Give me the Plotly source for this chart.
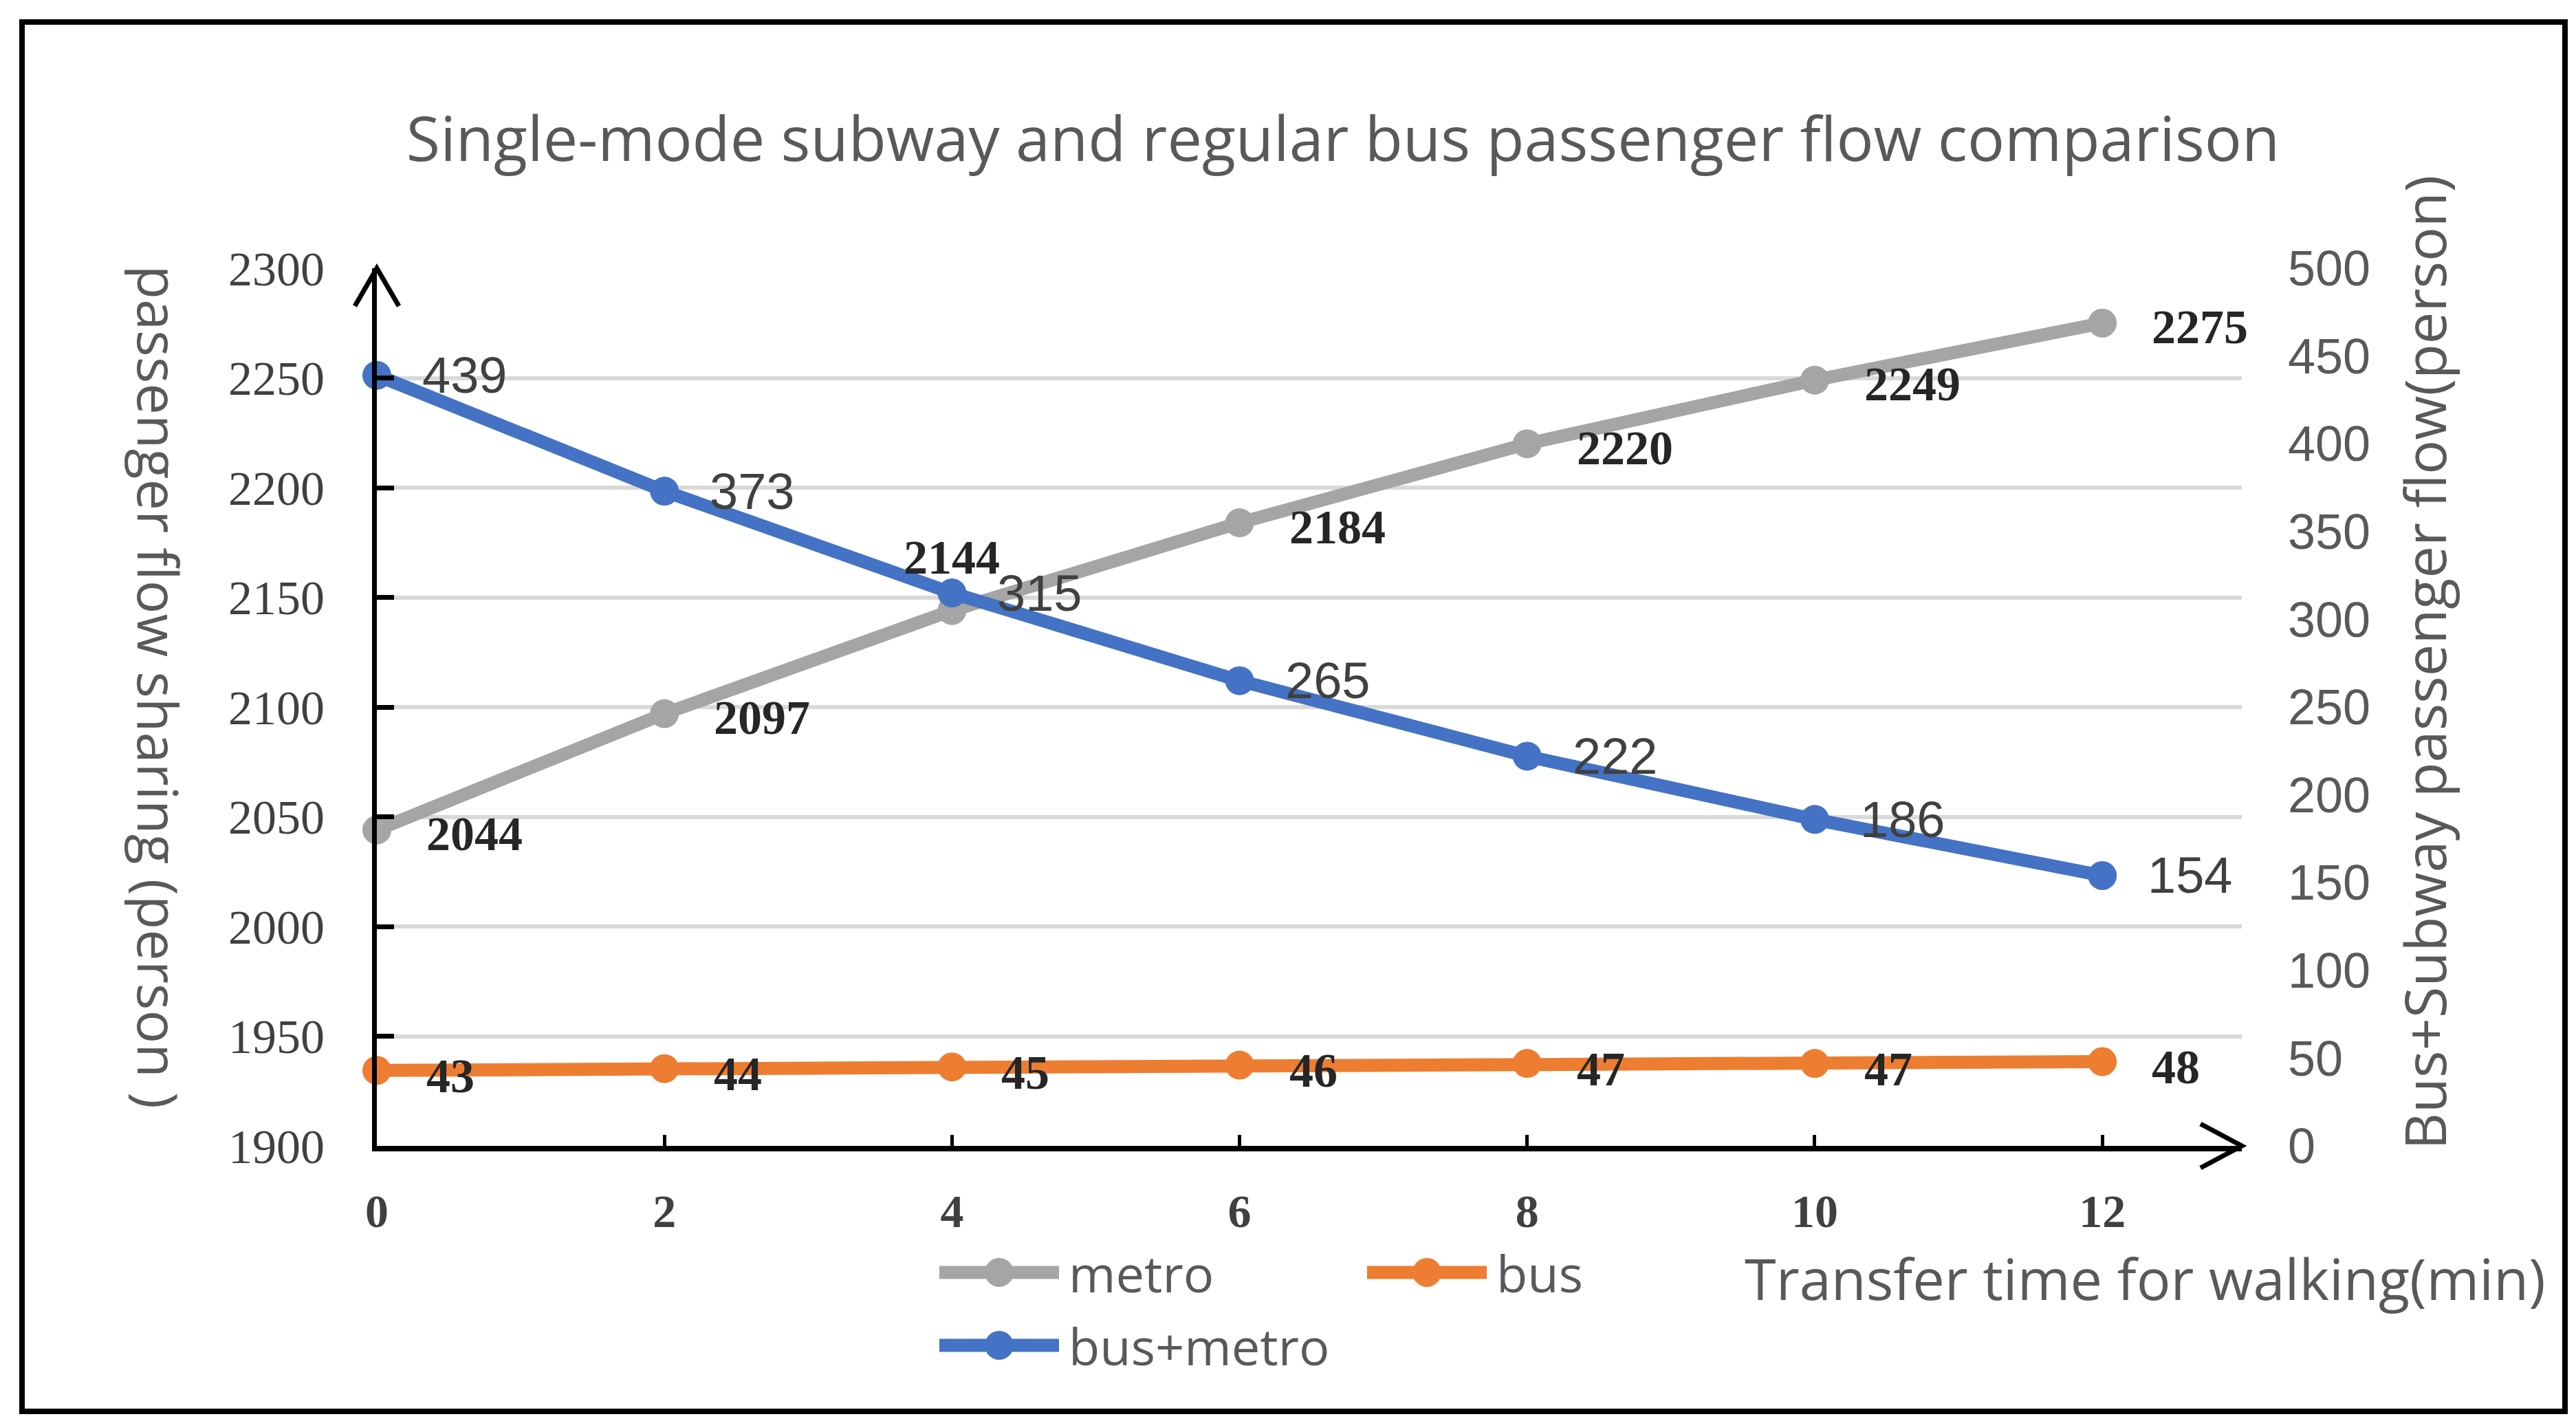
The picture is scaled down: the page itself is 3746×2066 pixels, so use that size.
import plotly.graph_objects as go

# transfer time for walking (min)
minutes = [0, 2, 4, 6, 8, 10, 12]
metro = [2044, 2097, 2144, 2184, 2220, 2249, 2275]
bus = [43, 44, 45, 46, 47, 47, 48]
bus_metro = [439, 373, 315, 265, 222, 186, 154]

left_ticks = [1900, 1950, 2000, 2050, 2100, 2150, 2200, 2250, 2300]
right_ticks = [0, 50, 100, 150, 200, 250, 300, 350, 400, 450, 500]

GRAY = '#A5A5A5'
ORANGE = '#ED7D31'
BLUE = '#4472C4'
TXT = '#595959'

# page and plot area in pixels
WIDTH, HEIGHT = 3746, 2066
L, R, T, B = 540, 3252, 382, 1658
PW, PH = R - L, B - T


def px(x):
    return (x - L) / PW


def py(y):
    return (B - y) / PH


fig = go.Figure()

fig.add_trace(go.Scatter(
    x=minutes, y=metro, name='metro', mode='lines+markers',
    line=dict(color=GRAY, width=19), marker=dict(size=42, color=GRAY),
    cliponaxis=False, showlegend=False
))
fig.add_trace(go.Scatter(
    x=minutes, y=bus, name='bus', yaxis='y2', mode='lines+markers',
    line=dict(color=ORANGE, width=19), marker=dict(size=42, color=ORANGE),
    cliponaxis=False, showlegend=False
))
fig.add_trace(go.Scatter(
    x=minutes, y=bus_metro, name='bus+metro', yaxis='y2', mode='lines+markers',
    line=dict(color=BLUE, width=19), marker=dict(size=42, color=BLUE),
    cliponaxis=False, showlegend=False
))

annotations = []
serif_lab = dict(family='Liberation Serif', size=70, color='#262626', weight='bold')
sans_lab = dict(family='Liberation Sans', size=74, color='#404040')

for m, v in zip(minutes, metro):
    if v == 2144:
        annotations.append(dict(x=m, y=v, xref='x', yref='y', text=str(v), showarrow=False,
                                xanchor='center', yanchor='middle', yshift=77, font=serif_lab))
    else:
        annotations.append(dict(x=m, y=v, xref='x', yref='y', text=str(v), showarrow=False,
                                xanchor='left', yanchor='middle', xshift=70, yshift=-6, font=serif_lab))
for m, v in zip(minutes, bus):
    annotations.append(dict(x=m, y=v, xref='x', yref='y2', text=str(v), showarrow=False,
                            xanchor='left', yanchor='middle', xshift=70, yshift=-8, font=serif_lab))
for m, v in zip(minutes, bus_metro):
    annotations.append(dict(x=m, y=v, xref='x', yref='y2', text=str(v), showarrow=False,
                            xanchor='left', yanchor='middle', xshift=64, font=sans_lab))

# axis titles
annotations.append(dict(x=px(166), y=py(990), xref='paper', yref='paper',
                        text='passenger flow sharing (person )', textangle=90, showarrow=False,
                        font=dict(family='Open Sans', size=81, color=TXT)))
annotations.append(dict(x=px(3574), y=py(955), xref='paper', yref='paper',
                        text='Bus+Subway passenger flow(person)', textangle=-90, showarrow=False,
                        font=dict(family='Open Sans', size=83, color=TXT)))
annotations.append(dict(x=px(3696), y=py(1850), xref='paper', yref='paper',
                        text='Transfer time for walking(min)', xanchor='right', yanchor='middle',
                        showarrow=False, font=dict(family='Open Sans', size=83, color=TXT)))

shapes = []
# arrows at the axis ends
shapes.append(dict(type='path', xref='paper', yref='paper', xsizemode='pixel', ysizemode='pixel',
                   xanchor=0, yanchor=1, path='M-32,-55 L0,0 L32,-55',
                   line=dict(color='black', width=7)))
shapes.append(dict(type='path', xref='paper', yref='paper', xsizemode='pixel', ysizemode='pixel',
                   xanchor=1, yanchor=0, path='M-60,32 L0,0 L-60,-32',
                   line=dict(color='black', width=7)))
# outer frame
shapes.append(dict(type='rect', xref='paper', yref='paper',
                   x0=px(24), x1=px(3722), y0=py(24), y1=py(2044),
                   line=dict(color='black', width=8), layer='below'))

# legend drawn by hand
legend_items = [('metro', GRAY, 1358, 1842), ('bus', ORANGE, 1980, 1842), ('bus+metro', BLUE, 1358, 1948)]
for name, col, x0, yc in legend_items:
    shapes.append(dict(type='line', xref='paper', yref='paper', x0=px(x0), x1=px(x0 + 174),
                       y0=py(yc), y1=py(yc), line=dict(color=col, width=19)))
    cx = x0 + 87
    shapes.append(dict(type='circle', xref='paper', yref='paper', x0=px(cx - 21), x1=px(cx + 21),
                       y0=py(yc + 21), y1=py(yc - 21), fillcolor=col, line=dict(width=0)))
    annotations.append(dict(x=px(x0 + 186), y=py(yc), xref='paper', yref='paper', text=name,
                            xanchor='left', yanchor='middle', showarrow=False,
                            font=dict(family='Open Sans', size=74, color=TXT)))

fig.update_layout(
    width=WIDTH, height=HEIGHT, autosize=False,
    margin=dict(l=L, r=WIDTH - R, t=T, b=HEIGHT - B),
    paper_bgcolor='white', plot_bgcolor='white',
    title=dict(text='Single-mode subway and regular bus passenger flow comparison',
               x=1945 / WIDTH, xanchor='center', y=1 - 194 / HEIGHT, yanchor='middle',
               font=dict(family='Open Sans', size=90, color=TXT)),
    xaxis=dict(range=[0, 12.97], tickvals=minutes, ticktext=[str(m) for m in minutes],
               showgrid=False, zeroline=False, showline=True, linecolor='black', linewidth=8,
               ticks='inside', ticklen=16, tickwidth=5, tickcolor='black',
               ticklabelstandoff=28,
               tickfont=dict(family='Liberation Serif', size=68, color='#404040', weight='bold')),
    yaxis=dict(range=[1900, 2300], tickvals=left_ticks, showgrid=True, gridcolor='#D9D9D9', gridwidth=6,
               zeroline=False, showline=True, linecolor='black', linewidth=7,
               ticks='inside', ticklen=25, tickwidth=7, tickcolor='black',
               ticklabelstandoff=55,
               tickfont=dict(family='Liberation Serif', size=70, color='#404040')),
    yaxis2=dict(range=[0, 500], tickvals=right_ticks, overlaying='y', side='right',
                showgrid=False, zeroline=False, showline=False, ticks='',
                ticklabelstandoff=66,
                tickfont=dict(family='Liberation Sans', size=72, color=TXT)),
    annotations=annotations,
    shapes=shapes,
)

fig.write_html("out.html")
